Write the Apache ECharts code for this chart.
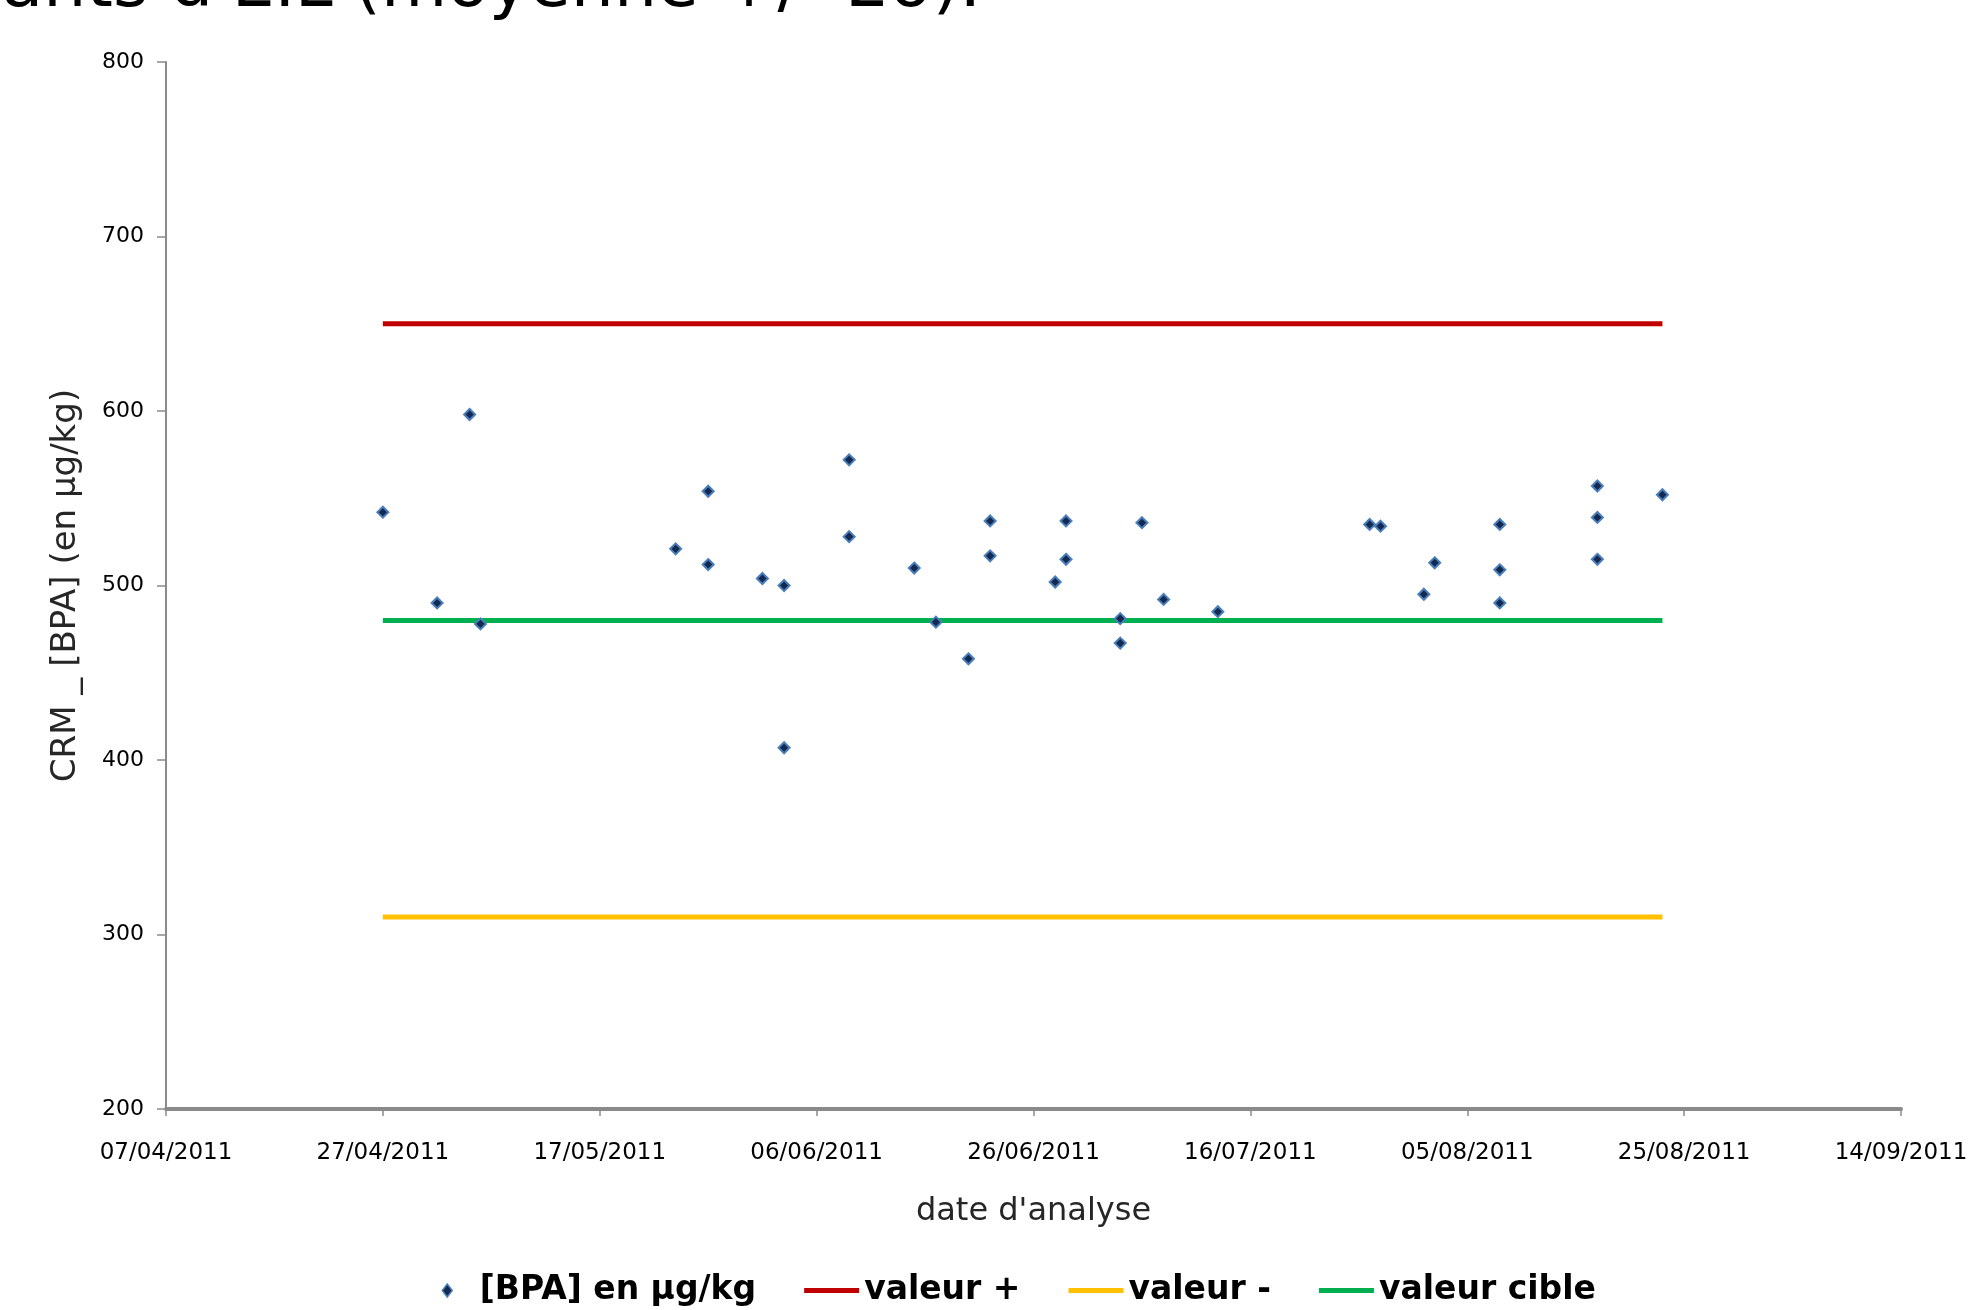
<!DOCTYPE html>
<html>
<head>
<meta charset="utf-8">
<script src="https://cdn.jsdelivr.net/npm/echarts@6/dist/echarts.min.js"></script>
<style>
html,body{margin:0;padding:0;background:#fff;}
#chart{width:1973px;height:1310px;}
</style>
</head>
<body>
<div id="chart"></div>
<script>
// ---- data ----
const dates = ['27/04/2011','02/05/2011','05/05/2011','06/05/2011','24/05/2011','27/05/2011','27/05/2011',
  '01/06/2011','03/06/2011','03/06/2011','09/06/2011','09/06/2011','15/06/2011','17/06/2011','20/06/2011',
  '22/06/2011','22/06/2011','28/06/2011','29/06/2011','29/06/2011','04/07/2011','04/07/2011','06/07/2011',
  '08/07/2011','13/07/2011','27/07/2011','28/07/2011','01/08/2011','02/08/2011','08/08/2011','08/08/2011',
  '08/08/2011','17/08/2011','17/08/2011','17/08/2011','23/08/2011'];
const bpa = [542,490,598,478,521,554,512,504,500,407,572,528,510,479,458,537,517,502,537,515,481,467,536,492,
  485,535,534,495,513,535,509,490,557,539,515,552];
const limitDates = ['27/04/2011','23/08/2011'];
const valeurPlus = [650,650];
const valeurMoins = [310,310];
const valeurCible = [480,480];
const xAxisStart = '07/04/2011';
const xAxisEnd = '14/09/2011';
const xTickStepDays = 20;
const yTicks = [200,300,400,500,600,700,800];
const seriesNames = ['[BPA] en µg/kg','valeur +','valeur -','valeur cible'];
const xAxisTitle = "date d'analyse";
const yAxisTitle = 'CRM _ [BPA] (en µg/kg)';
const topText = "participants d'EIL (moyenne +/- 2σ).";

// ---- helpers: dd/mm/yyyy <-> spreadsheet serial day ----
const EPOCH = Date.UTC(1899,11,30);
function toSerial(s){const p=s.split('/');return Math.round((Date.UTC(+p[2],+p[1]-1,+p[0])-EPOCH)/86400000);}
function fromSerial(n){const d=new Date(EPOCH+n*86400000);const dd=String(d.getUTCDate()).padStart(2,'0');
  const mm=String(d.getUTCMonth()+1).padStart(2,'0');return dd+'/'+mm+'/'+d.getUTCFullYear();}
function pairs(ds,vs){return ds.map((d,i)=>[toSerial(d),vs[i]]);}

const FONT = 'DejaVu Sans';
const lineIcon = 'path://M0,0L0.001,0M0,4L55,4L55,9L0,9ZM0,13L0.001,13';
const diamondIcon = 'path://M0,6.5L0.001,6.5M55,6.5L54.999,6.5M27.5,0L32.5,6.5L27.5,13L22.5,6.5Z';
const chart = echarts.init(document.getElementById('chart'), null, {renderer:'canvas'});
const lineW = 5;
chart.setOption({
  backgroundColor:'#ffffff',
  animation:false,
  graphic:[{
    type:'text', x:981, y:-12, silent:true,
    style:{text:topText, font:'68px "DejaVu Sans"', fill:'#000', align:'right', verticalAlign:'middle'}
  }],
  grid:{left:166,right:72,top:62,bottom:201,containLabel:false},
  legend:{
    left:414, top:1269, itemWidth:55, itemHeight:13, itemGap:48,
    textStyle:{fontFamily:FONT,fontSize:33,fontWeight:'bold',color:'#000'},
    data:[
      {name:seriesNames[0],icon:diamondIcon,itemStyle:{color:'#13294F',borderColor:'#4A7EBB',borderWidth:1.5}},
      {name:seriesNames[1],icon:lineIcon,itemStyle:{color:'#C00000',borderWidth:0}},
      {name:seriesNames[2],icon:lineIcon,itemStyle:{color:'#FFC000',borderWidth:0}},
      {name:seriesNames[3],icon:lineIcon,itemStyle:{color:'#00B050',borderWidth:0}}
    ]
  },
  xAxis:{
    type:'value', min:toSerial(xAxisStart), max:toSerial(xAxisEnd), interval:xTickStepDays,
    name:xAxisTitle, nameLocation:'middle', nameGap:87,
    nameTextStyle:{fontFamily:FONT,fontSize:32,color:'#262626'},
    axisLine:{lineStyle:{color:'#8a8a8a',width:4}},
    axisTick:{length:7,lineStyle:{color:'#8a8a8a',width:1.5}},
    axisLabel:{margin:33,fontFamily:FONT,fontSize:23,color:'#000',formatter:v=>fromSerial(v)},
    splitLine:{show:false}
  },
  yAxis:{
    type:'value', min:yTicks[0], max:yTicks[yTicks.length-1], interval:yTicks[1]-yTicks[0],
    name:yAxisTitle, nameLocation:'middle', nameGap:83,
    nameTextStyle:{fontFamily:FONT,fontSize:34,color:'#262626'},
    axisLine:{show:true,lineStyle:{color:'#8a8a8a',width:2}},
    axisTick:{show:true,length:9,lineStyle:{color:'#8a8a8a',width:1.5}},
    axisLabel:{margin:22,fontFamily:FONT,fontSize:22,color:'#000'},
    splitLine:{show:false}
  },
  series:[
    {name:seriesNames[1],type:'line',data:pairs(limitDates,valeurPlus),symbol:'none',
     lineStyle:{color:'#C00000',width:lineW},itemStyle:{color:'#C00000'},z:2},
    {name:seriesNames[2],type:'line',data:pairs(limitDates,valeurMoins),symbol:'none',
     lineStyle:{color:'#FFC000',width:lineW},itemStyle:{color:'#FFC000'},z:2},
    {name:seriesNames[3],type:'line',data:pairs(limitDates,valeurCible),symbol:'none',
     lineStyle:{color:'#00B050',width:lineW},itemStyle:{color:'#00B050'},z:2},
    {name:seriesNames[0],type:'scatter',data:pairs(dates,bpa),symbol:'diamond',symbolSize:11,
     itemStyle:{color:'#13294F',borderColor:'#4A7EBB',borderWidth:2,opacity:1},z:5}
  ]
});
</script>
</body>
</html>
